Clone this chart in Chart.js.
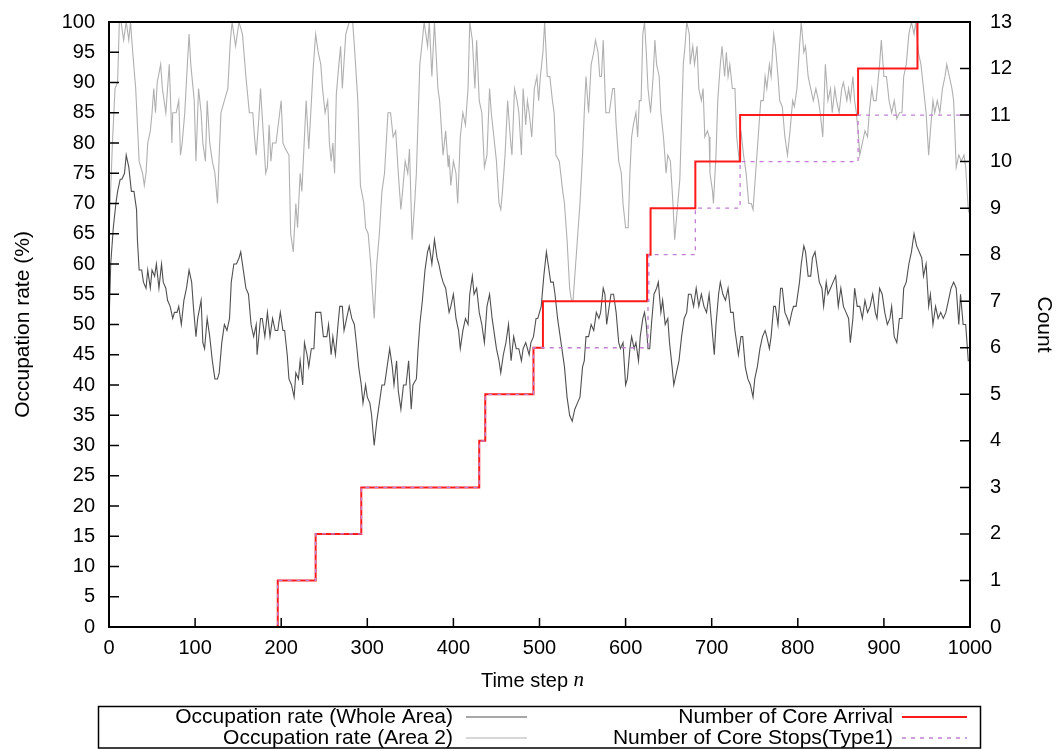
<!DOCTYPE html>
<html>
<head>
<meta charset="utf-8">
<script src="https://cdn.jsdelivr.net/npm/chart.js@4"></script>
<style>
  html, body { margin: 0; padding: 0; background: #fff; }
  #wrap { width: 1056px; height: 749px; position: relative; }
</style>
</head>
<body>
<div id="wrap"><canvas id="chart"></canvas></div>
<script>
// occupation rate, whole area: [time step, %]
const wholeArea = [
  [0,50],[2,60],[5,66],[8,70],[10,72],[13,74],[15,74],[18,75],[20,78],[23,76],[26,72],[29,72],[32,69],[33,64],[35,59],[38,59],[40,57],[43,56],[45,59],[48,56],
  [50,59],[53,58],[55,60],[58,56],[61,60],[63,57],[66,56],[68,54],[71,53],[74,51],[76,52],[79,52],[81,53],[84,50],[87,54],[90,56],[93,59],[96,57],[98,53],
  [101,48],[103,51],[107,54],[109,47],[111,46],[114,51],[117,48],[120,44],[123,41],[126,41],[128,42],[131,47],[134,50],[137,49],[140,51],[142,57],[145,60],[148,60],
  [151,61],[153,62],[156,59],[159,56],[162,55],[165,50],[168,48],[171,50],[172,45],[176,51],[178,51],[181,48],[184,52],[187,48],[190,51],[193,49],[196,49],[199,52],
  [202,49],[204,49],[207,45],[209,41],[212,40],[215,38],[217,42],[220,41],[222,44],[225,40],[227,47],[230,45],[232,43],[235,46],[238,46],[240,52],[243,52],[246,52],[249,48],
  [253,48],[255,50],[258,45],[260,48],[263,45],[266,50],[268,53],[271,53],[273,49],[276,51],[279,53],[282,51],[285,50],[288,46],[290,43],[293,40],[295,37],[298,40],
  [300,38],[303,37],[305,35],[308,30],[311,34],[314,37],[317,40],[320,40],[323,43],[326,46],[329,43],[331,40],[334,44],[336,39],[339,36],[342,40],[345,40],[348,44],[351,36],[353,40],[357,41],[359,46],
  [361,50],[364,54],[367,59],[370,62],[372,63],[375,60],[378,64],[381,61],[383,60],[386,58],[388,57],[391,56],[395,52],[397,53],
  [400,55],[403,51],[406,49],[408,46],[411,49],[414,51],[417,50],[419,55],[422,58],[424,55],[427,56],[430,52],[433,50],[436,47],[439,53],[442,55],[445,51],[448,48],
  [450,46],[453,44],[455,42],[458,45],[461,47],[464,50],[467,44],[470,48],[473,46],[476,46],[479,44],[481,46],[484,47],[488,45],[490,47],[493,48],[496,51],[498,51],
  [502,53],[505,58],[508,62],[510,60],[513,57],[516,57],[518,55],[521,51],[523,49],[526,46],[529,43],[532,38],[535,35],[538,34],[541,36],[544,37],[547,38],[550,43],
  [552,44],[554,48],[557,48],[560,50],[563,49],[566,52],[569,51],[571,52],[574,56],[576,55],[578,50],[580,52],[583,55],[586,55],[589,52],[592,47],[594,46],[597,47],
  [600,40],[602,41],[605,46],[607,48],[610,46],[612,47],[615,44],[617,48],[620,51],[622,52],[624,50],[626,46],[628,46],[630,50],[633,55],[636,56],[638,57],[641,52],[643,54],[646,50],
  [649,51],[651,47],[654,43],[656,40],[659,42],[662,44],[665,48],[668,51],[671,52],[673,55],[676,55],[679,53],[682,56],[685,53],[688,55],[691,53],[694,52],[697,55],
  [700,50],[703,45],[705,50],[708,55],[710,57],[713,55],[716,54],[719,56],[722,52],[725,52],[727,49],[731,45],[734,48],[736,48],[739,43],[742,41],[745,40],[748,38],
  [750,41],[753,43],[756,46],[759,48],[762,49],[764,48],[767,46],[769,48],[772,53],[774,53],[777,50],[780,56],[782,56],[785,52],[788,51],[790,50],[793,52],[795,53],[798,53],
  [802,57],[804,60],[807,63],[809,62],[812,58],[815,58],[817,61],[820,62],[822,60],[825,57],[828,56],[830,53],[833,57],[835,55],[838,56],[841,57],[844,58],[847,53],
  [850,56],[853,53],[856,52],[859,51],[861,47],[864,51],[866,56],[869,53],[872,53],[875,51],[878,54],[881,52],[884,53],[887,55],[890,52],[892,51],[895,56],[898,55],
  [901,52],[904,50],[907,51],[909,53],[912,48],[915,47],[918,51],[921,51],[923,56],[926,57],[929,60],[932,62],[935,65],[938,63],[941,62],[944,61],[946,58],[949,60],
  [952,53],[954,55],[957,50],[960,53],[963,51],[966,52],[969,51],[972,52],[975,54],[978,56],[981,57],[984,56],[987,50],[989,55],[992,50],[995,50],[998,44],[1000,44],
]

// occupation rate, area 2: [time step, %]
const area2 = [
  [0,65],[4,80],[7,89],[10,90],[12,100],[14,100],[17,97],[20,100],[23,97],[25,100],[27,96],[31,89],[35,77],[39,75],[41,73],[43,75],[45,80],[48,82],
  [50,85],[52,89],[54,85],[56,90],[60,93],[62,89],[64,87],[66,85],[68,89],[70,93],[72,85],[73,80],[74,85],[78,85],[81,87],[83,78],[85,80],[88,85],[91,93],[93,98],[95,93],[99,87],
  [101,77],[104,89],[107,85],[109,80],[112,77],[114,87],[117,80],[120,77],[123,75],[126,70],[128,78],[130,85],[134,87],[138,89],[141,97],[143,100],[147,96],
  [151,100],[155,98],[159,91],[163,85],[167,85],[169,81],[171,78],[174,84],[176,89],[179,82],[182,75],[184,76],[186,83],[188,77],[190,80],[194,80],
  [200,87],[202,80],[205,79],[209,78],[211,65],[214,62],[217,70],[219,66],[222,75],[224,72],[227,81],[229,87],[232,79],[234,84],[237,92],[240,98],[243,95],[246,93],[248,89],
  [251,85],[254,87],[256,80],[258,77],[260,80],[262,75],[264,88],[267,93],[269,96],[271,89],[275,98],[279,100],[283,100],[285,96],[289,87],[292,73],[296,70],[298,66],
  [301,65],[304,60],[308,51],[311,60],[314,65],[317,72],[320,75],[324,85],[327,85],[330,81],[333,82],[336,75],[339,69],[341,72],[344,77],[347,75],[349,79],
  [352,64],[355,70],[357,75],[359,84],[361,93],[364,97],[366,100],[370,96],[372,100],[375,91],[378,100],[382,89],[384,87],[388,78],[391,82],[394,76],[395,78],[397,73],
  [400,77],[403,75],[405,70],[408,81],[411,85],[414,83],[417,89],[419,100],[422,97],[425,89],[427,97],[430,87],[433,85],[436,76],[439,78],[442,89],[444,85],[447,81],
  [450,77],[453,70],[455,69],[457,72],[460,78],[463,87],[466,81],[468,78],[471,89],[474,87],[476,85],[479,78],[481,89],[484,83],[486,87],[488,85],[491,81],[494,89],[497,91],[499,87],
  [501,91],[504,95],[506,100],[509,91],[512,91],[515,87],[517,85],[519,78],[523,77],[527,72],[529,70],[532,64],[535,56],[537,54],[539,54],[542,60],[544,64],[547,70],
  [550,78],[552,85],[554,91],[557,85],[560,93],[563,95],[565,97],[568,95],[570,91],[572,91],[574,97],[577,85],[579,85],[581,85],[585,89],[587,89],[589,83],[592,77],[595,75],[597,70],
  [600,66],[603,66],[605,75],[607,81],[609,83],[612,85],[614,81],[616,87],[618,87],[620,98],[622,100],[624,95],[626,89],[629,85],[632,91],[634,97],[636,93],[639,91],[641,85],[644,81],[647,75],
  [649,78],[652,77],[655,70],[657,64],[660,69],[663,74],[667,93],[669,96],[671,100],[674,98],[675,93],[678,96],[680,93],[683,96],[685,89],[688,87],[690,89],[692,81],[695,82],[697,81],[698,75],
  [701,72],[702,70],[705,78],[707,87],[710,93],[712,96],[715,91],[717,95],[719,91],[721,93],[724,89],[727,89],[729,81],[732,77],[734,82],[737,78],[740,75],[743,70],[746,70],[748,69],
  [751,75],[754,81],[757,87],[760,87],[762,91],[764,89],[767,93],[769,91],[772,98],[774,96],[777,91],[779,87],[782,86],[785,81],[788,78],[791,82],[794,87],[796,86],[799,89],
  [802,96],[804,100],[807,95],[809,96],[812,91],[815,89],[818,87],[821,89],[824,87],[826,85],[829,81],[832,93],[835,87],[838,89],[840,85],[843,89],[845,87],[848,85],
  [851,89],[853,90],[857,87],[859,89],[861,87],[864,91],[866,87],[868,85],[870,82],[872,78],[875,80],[878,82],[881,81],[883,85],[886,89],[888,87],[891,87],[895,93],[897,97],
  [900,91],[903,91],[906,87],[909,85],[912,87],[915,84],[918,85],[921,85],[923,91],[926,93],[929,98],[932,100],[935,98],[937,100],[940,95],[943,93],[946,89],[949,85],
  [952,78],[954,82],[957,87],[959,85],[962,87],[965,85],[968,89],[971,91],[973,93],[976,91],[979,89],[981,87],[984,76],[987,78],[990,77],[993,78],[995,76],[998,69],[1000,68],
]

// cumulative counts (right axis)
const arrivalSteps = [0, 196, 240, 293, 430, 437, 493, 504, 625, 629, 681, 733, 870, 939, 1000]
const arrivalCount = [0, 1, 2, 3, 4, 5, 6, 7, 8, 9, 10, 11, 12, 13, 13]
const stopSteps = [0, 196, 240, 293, 430, 437, 493, 626, 627, 681, 733, 870, 1000]
const stopCount = [0, 1, 2, 3, 4, 5, 6, 7, 8, 9, 10, 11, 11]

const FONT = '"Liberation Sans", Arial, Helvetica, sans-serif'
Chart.defaults.font.family = FONT
Chart.defaults.color = '#000'

const toPoints = (pairs) => pairs.map(([x, y]) => ({ x, y }))
const zipPoints = (xs, ys) => xs.map((x, i) => ({ x, y: ys[i] }))
const plainTick = (v) => String(v)

// inward ticks, frame, x title with italic n, gnuplot-like key
const gnuplotDecor = {
  id: 'gnuplotDecor',
  afterDraw(chart) {
    const { ctx, chartArea: a, scales } = chart
    ctx.save()
    ctx.strokeStyle = '#000'
    ctx.lineWidth = 1.5

    ctx.beginPath()
    scales.x.ticks.forEach((t) => {
      const px = scales.x.getPixelForValue(t.value)
      ctx.moveTo(px, a.bottom)
      ctx.lineTo(px, a.bottom - 9)
    })
    scales.y.ticks.forEach((t) => {
      const py = scales.y.getPixelForValue(t.value)
      ctx.moveTo(a.left, py)
      ctx.lineTo(a.left + 10, py)
    })
    scales.y2.ticks.forEach((t) => {
      const py = scales.y2.getPixelForValue(t.value)
      ctx.moveTo(a.right, py)
      ctx.lineTo(a.right - 10, py)
    })
    ctx.stroke()

    ctx.lineWidth = 2
    ctx.strokeRect(a.left, a.top, a.right - a.left, a.bottom - a.top)

    // x axis title
    ctx.fillStyle = '#000'
    ctx.textBaseline = 'middle'
    const sans = '20px ' + FONT
    const ital = 'italic 21px "Liberation Serif", "Times New Roman", serif'
    ctx.font = sans
    const w1 = ctx.measureText('Time step ').width
    ctx.font = ital
    const w2 = ctx.measureText('n').width
    const x0 = (a.left + a.right) / 2 - 7 - (w1 + w2) / 2
    ctx.font = sans
    ctx.textAlign = 'left'
    ctx.fillText('Time step ', x0, 681)
    ctx.font = ital
    ctx.fillText('n', x0 + w1, 680)

    // key box
    ctx.lineWidth = 1.5
    ctx.strokeRect(98.5, 706.5, 882, 41.5)
    const ds = chart.data.datasets
    const slots = [
      { i: 3, tx: 453, s0: 466, s1: 527, y: 717 },
      { i: 2, tx: 453, s0: 466, s1: 527, y: 738 },
      { i: 1, tx: 893, s0: 902, s1: 967, y: 717 },
      { i: 0, tx: 893, s0: 902, s1: 967, y: 738 },
    ]
    ctx.font = '21px ' + FONT
    ctx.textAlign = 'right'
    slots.forEach((s) => {
      const d = ds[s.i]
      ctx.fillStyle = '#000'
      ctx.fillText(d.label, s.tx, s.y)
      ctx.strokeStyle = d.borderColor
      ctx.lineWidth = d.borderWidth
      ctx.setLineDash(d.borderDash || [])
      ctx.beginPath()
      ctx.moveTo(s.s0, s.y)
      ctx.lineTo(s.s1, s.y)
      ctx.stroke()
    })
    ctx.setLineDash([])
    ctx.restore()
  },
}

const datasets = [
  {
    label: 'Number of Core Stops(Type1)',
    data: zipPoints(stopSteps, stopCount),
    yAxisID: 'y2',
    stepped: 'before',
    borderColor: '#c07fd2',
    borderWidth: 1.3,
    borderDash: [4, 5],
  },
  {
    label: 'Number of Core Arrival',
    data: zipPoints(arrivalSteps, arrivalCount),
    yAxisID: 'y2',
    stepped: 'before',
    borderColor: '#ff1a1a',
    borderWidth: 2,
  },
  {
    label: 'Occupation rate (Area 2)',
    data: toPoints(area2),
    yAxisID: 'y',
    borderColor: '#b0b0b0',
    borderWidth: 1.1,
  },
  {
    label: 'Occupation rate (Whole Area)',
    data: toPoints(wholeArea),
    yAxisID: 'y',
    borderColor: '#505050',
    borderWidth: 1.1,
  },
]
datasets.forEach((d) => {
  d.pointRadius = 0
  d.fill = false
  d.tension = 0
})

new Chart(document.getElementById('chart'), {
  type: 'line',
  data: { datasets },
  options: {
    responsive: true,
    maintainAspectRatio: false,
    animation: false,
    events: [],
    layout: { padding: { top: 22, left: 0, right: 0, bottom: 0 } },
    plugins: {
      legend: { display: false },
      tooltip: { enabled: false },
    },
    scales: {
      x: {
        type: 'linear',
        position: 'bottom',
        min: 0,
        max: 1000,
        grid: { display: false, drawTicks: false },
        border: { display: false },
        ticks: { stepSize: 100, padding: 9, maxRotation: 0, autoSkip: false, font: { size: 20 }, color: '#000', callback: plainTick },
        afterFit: (s) => { s.height = 122; s.paddingLeft = 0; s.paddingRight = 0 },
      },
      y: {
        type: 'linear',
        position: 'left',
        min: 0,
        max: 100,
        grid: { display: false, drawTicks: false },
        border: { display: false },
        ticks: { stepSize: 5, padding: 14, autoSkip: false, font: { size: 20 }, color: '#000', callback: plainTick },
        title: { display: true, text: 'Occupation rate (%)', font: { size: 21 }, color: '#000', padding: { top: 11, bottom: 0 } },
        afterFit: (s) => { s.width = 109; s.paddingTop = 0; s.paddingBottom = 0 },
      },
      y2: {
        type: 'linear',
        position: 'right',
        min: 0,
        max: 13,
        grid: { display: false, drawTicks: false },
        border: { display: false },
        ticks: { stepSize: 1, padding: 20, autoSkip: false, font: { size: 20 }, color: '#000', callback: plainTick },
        title: { display: true, text: 'Count', font: { size: 21 }, color: '#000', padding: { top: 0, bottom: 0 } },
        afterFit: (s) => { s.width = 86; s.paddingTop = 0; s.paddingBottom = 0 },
      },
    },
  },
  plugins: [gnuplotDecor],
})
</script>
</body>
</html>
